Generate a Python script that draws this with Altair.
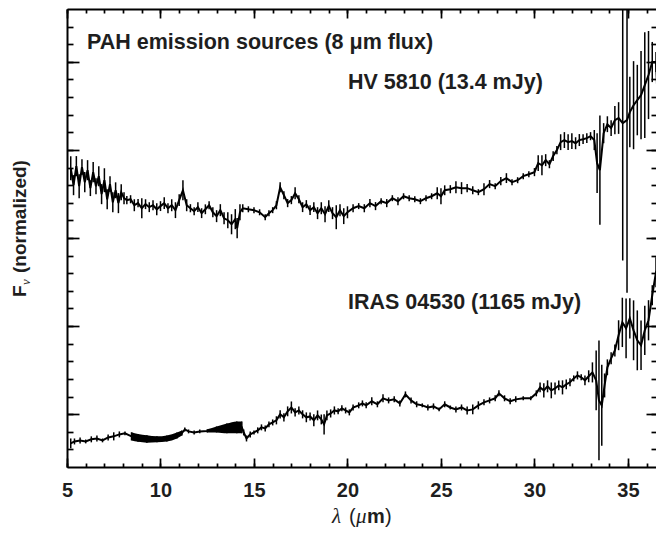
import altair as alt
import pandas as pd

# ---------------- data ----------------
# HV 5810 spectrum
hv_wl = [5.2, 5.35, 5.5, 5.65, 5.8, 5.95, 6.1, 6.25, 6.4, 6.55, 6.7, 6.85, 7.0, 7.15, 7.3, 7.45,
         7.6, 7.75, 7.9, 8.05, 8.2, 8.4, 8.6, 8.8, 9.0, 9.2, 9.4, 9.6, 9.8, 10.0, 10.2, 10.4,
         10.6, 10.8, 11.0, 11.2, 11.4, 11.6, 11.8, 12.0, 12.2, 12.4, 12.6, 12.8, 13.0, 13.2,
         13.4, 13.6, 13.8, 14.0, 14.1, 14.25, 14.4, 14.7, 15.0, 15.3, 15.6, 15.8, 16.0, 16.2,
         16.4, 16.6, 16.8, 17.0, 17.2, 17.4, 17.6, 17.8, 18.0, 18.2, 18.4, 18.6, 18.8, 19.0,
         19.2, 19.4, 19.6, 19.8, 20.0, 20.3, 20.6, 20.9, 21.2, 21.5, 21.8, 22.1, 22.4, 22.7,
         23.0, 23.3, 23.6, 23.9, 24.2, 24.5, 24.8, 25.0, 25.2, 25.5, 25.8, 26.1, 26.4, 26.7,
         27.0, 27.3, 27.6, 27.9, 28.2, 28.5, 28.8, 29.1, 29.4, 29.7, 30.0, 30.2, 30.4, 30.6,
         30.8, 31.0, 31.2, 31.4, 31.6, 31.8, 32.0, 32.2, 32.4, 32.6, 32.8, 33.0, 33.2, 33.35,
         33.5, 33.7, 33.9, 34.1, 34.3, 34.5, 34.72, 34.95, 35.1, 35.3, 35.5, 35.7, 35.9, 36.1,
         36.3, 36.5, 36.6, 36.8]
hv_flux = [1.396, 1.300, 1.408, 1.294, 1.402, 1.317, 1.385, 1.283, 1.374, 1.294, 1.351, 1.249,
           1.328, 1.220, 1.306, 1.203, 1.271, 1.198, 1.260, 1.226, 1.215, 1.220, 1.186, 1.198,
           1.169, 1.192, 1.175, 1.186, 1.163, 1.181, 1.198, 1.169, 1.186, 1.158, 1.215, 1.271,
           1.186, 1.169, 1.152, 1.175, 1.141, 1.163, 1.186, 1.146, 1.124, 1.158, 1.112, 1.101,
           1.078, 1.107, 1.056, 1.146, 1.169, 1.163, 1.158, 1.146, 1.118, 1.141, 1.158, 1.186,
           1.288, 1.243, 1.198, 1.215, 1.254, 1.220, 1.175, 1.192, 1.158, 1.175, 1.141, 1.169,
           1.135, 1.181, 1.141, 1.118, 1.158, 1.124, 1.146, 1.169, 1.181, 1.169, 1.198, 1.181,
           1.209, 1.198, 1.226, 1.209, 1.237, 1.226, 1.220, 1.209, 1.226, 1.237, 1.254, 1.237,
           1.271, 1.277, 1.288, 1.283, 1.283, 1.271, 1.260, 1.277, 1.306, 1.294, 1.323, 1.340,
           1.317, 1.328, 1.351, 1.362, 1.374, 1.425, 1.413, 1.442, 1.419, 1.465, 1.499, 1.544,
           1.556, 1.544, 1.550, 1.538, 1.556, 1.561, 1.567, 1.578, 1.556, 1.425, 1.385, 1.595,
           1.646, 1.624, 1.669, 1.681, 1.652, 1.669, 1.715, 1.754, 1.783, 1.811, 1.868, 1.925,
           1.999, 1.999, 1.754, 1.896]
hv_err = [0.068, 0.057, 0.057, 0.068, 0.045, 0.057, 0.057, 0.045, 0.057, 0.045, 0.057, 0.057,
          0.068, 0.057, 0.045, 0.057, 0.045, 0.057, 0.045, 0.034, 0.023, 0.023, 0.034, 0.023,
          0.057, 0.028, 0.028, 0.028, 0.034, 0.028, 0.034, 0.028, 0.034, 0.045, 0.034, 0.057,
          0.034, 0.023, 0.023, 0.028, 0.028, 0.028, 0.023, 0.028, 0.034, 0.034, 0.034, 0.045,
          0.057, 0.057, 0.057, 0.045, 0.023, 0.017, 0.017, 0.017, 0.017, 0.017, 0.017, 0.023,
          0.028, 0.023, 0.023, 0.023, 0.034, 0.023, 0.028, 0.023, 0.028, 0.028, 0.034, 0.034,
          0.045, 0.034, 0.034, 0.068, 0.034, 0.045, 0.034, 0.023, 0.017, 0.023, 0.023, 0.023,
          0.017, 0.023, 0.017, 0.023, 0.017, 0.017, 0.017, 0.017, 0.017, 0.017, 0.034, 0.045,
          0.028, 0.023, 0.034, 0.034, 0.023, 0.023, 0.017, 0.034, 0.023, 0.017, 0.023, 0.028,
          0.017, 0.017, 0.017, 0.017, 0.023, 0.045, 0.057, 0.034, 0.023, 0.028, 0.023, 0.045,
          0.045, 0.045, 0.045, 0.034, 0.034, 0.028, 0.028, 0.023, 0.057, 0.170, 0.310, 0.057,
          0.045, 0.045, 0.080, 0.090, 0.780, 0.980, 0.200, 0.250, 0.200, 0.250, 0.300, 0.250,
          0.114, 0.057, 0.140, 0.140]

# IRAS 04530 spectrum
ir_wl = [5.2, 5.4, 5.7, 6.0, 6.3, 6.6, 6.9, 7.2, 7.5, 7.8, 8.1, 8.45, 8.8, 9.27, 9.81, 10.34,
         10.88, 11.15, 11.3, 11.5, 11.8, 12.1, 12.5, 13.0, 13.55, 14.08, 14.35, 14.45, 14.6,
         14.8, 15.0, 15.2, 15.4, 15.6, 15.8, 16.0, 16.2, 16.4, 16.6, 16.8, 17.0, 17.2, 17.4,
         17.6, 17.8, 18.0, 18.2, 18.4, 18.6, 18.75, 18.9, 19.1, 19.3, 19.5, 19.7, 19.9, 20.1,
         20.3, 20.6, 20.8, 21.0, 21.3, 21.6, 21.9, 22.2, 22.5, 22.8, 23.1, 23.4, 23.7, 24.0,
         24.3, 24.6, 24.9, 25.2, 25.5, 25.8, 26.1, 26.4, 26.7, 27.0, 27.3, 27.6, 27.9, 28.1,
         28.4, 28.7, 29.0, 29.4, 29.8, 30.1, 30.3, 30.5, 30.7, 30.9, 31.1, 31.3, 31.5, 31.7,
         31.9, 32.1, 32.3, 32.5, 32.7, 32.9, 33.1, 33.3, 33.45, 33.6, 33.75, 33.9, 34.1, 34.3,
         34.5, 34.7, 34.9, 35.1, 35.3, 35.5, 35.7, 35.9, 36.1, 36.3, 36.5, 36.7, 36.85]
ir_flux = [-0.166, -0.155, -0.149, -0.155, -0.143, -0.138, -0.149, -0.132, -0.126, -0.115,
           -0.109, -0.126, -0.135, -0.141, -0.143, -0.138, -0.121, -0.107, -0.087, -0.098,
           -0.104, -0.098, -0.095, -0.087, -0.081, -0.075, -0.075, -0.104, -0.138, -0.115,
           -0.104, -0.092, -0.075, -0.081, -0.058, -0.047, -0.035, -0.001, -0.018, 0.016,
           0.038, 0.010, 0.021, -0.001, -0.018, -0.013, -0.035, -0.007, -0.030, -0.058,
           -0.007, 0.004, 0.021, 0.016, 0.033, 0.021, 0.010, 0.038, 0.050, 0.061, 0.050,
           0.073, 0.056, 0.090, 0.078, 0.084, 0.061, 0.112, 0.078, 0.056, 0.050, 0.038,
           0.044, 0.027, 0.056, 0.038, 0.027, 0.038, 0.021, 0.027, 0.050, 0.067, 0.078,
           0.090, 0.118, 0.090, 0.073, 0.084, 0.090, 0.090, 0.118, 0.152, 0.135, 0.158,
           0.135, 0.146, 0.163, 0.152, 0.169, 0.181, 0.203, 0.220, 0.209, 0.192, 0.215,
           0.237, 0.192, 0.078, 0.050, 0.163, 0.266, 0.317, 0.362, 0.448, 0.521, 0.487,
           0.544, 0.476, 0.419, 0.391, 0.476, 0.533, 0.675, 0.806, 0.845, 0.862]
ir_err = [0.028, 0.017, 0.017, 0.011, 0.017, 0.017, 0.011, 0.017, 0.023, 0.017, 0.011, 0.023,
          0.022, 0.021, 0.017, 0.017, 0.017, 0.014, 0.011, 0.011, 0.011, 0.011, 0.009, 0.017,
          0.028, 0.034, 0.034, 0.017, 0.017, 0.017, 0.011, 0.017, 0.017, 0.017, 0.017, 0.017,
          0.023, 0.023, 0.023, 0.028, 0.034, 0.023, 0.023, 0.023, 0.028, 0.023, 0.034, 0.028,
          0.028, 0.057, 0.028, 0.023, 0.023, 0.017, 0.017, 0.017, 0.017, 0.017, 0.017, 0.017,
          0.017, 0.023, 0.017, 0.023, 0.017, 0.017, 0.017, 0.017, 0.017, 0.017, 0.011, 0.017,
          0.017, 0.011, 0.017, 0.011, 0.017, 0.017, 0.023, 0.028, 0.023, 0.017, 0.017, 0.017,
          0.017, 0.017, 0.017, 0.017, 0.011, 0.011, 0.017, 0.028, 0.040, 0.034, 0.045, 0.034,
          0.028, 0.040, 0.028, 0.023, 0.017, 0.023, 0.017, 0.028, 0.034, 0.057, 0.170, 0.340,
          0.230, 0.068, 0.045, 0.034, 0.034, 0.085, 0.140, 0.170, 0.114, 0.170, 0.170, 0.140,
          0.140, 0.114, 0.057, 0.085, 0.068, 0.057]

# densely sampled segments of IRAS 04530 (error bars merge into a band)
band_wl = [8.45, 8.8, 9.27, 9.81, 10.34, 10.88, 11.15, 12.5, 13.0, 13.55, 14.08, 14.35]
band_flux = [-0.126, -0.135, -0.141, -0.143, -0.138, -0.121, -0.107, -0.095, -0.087, -0.081,
             -0.075, -0.075]
band_err = [0.023, 0.022, 0.021, 0.017, 0.017, 0.017, 0.014, 0.009, 0.017, 0.028, 0.034, 0.034]
band_seg = [1, 1, 1, 1, 1, 1, 1, 2, 2, 2, 2, 2]

x_major = [5, 10, 15, 20, 25, 30, 35]
x_minor = [v for v in range(5, 37)]
y_major = [0.0, 0.5, 1.0, 1.5, 2.0]
y_minor = [round(-0.2 + 0.1 * i, 1) for i in range(25)]

X_DOM = [5, 36.5]
Y_DOM = [-0.3, 2.3]

title_text = "PAH emission sources (8 \u03bcm flux)"
hv_label = "HV 5810 (13.4 mJy)"
ir_label = "IRAS 04530 (1165 mJy)"

# ---------------- build ----------------
def frame(wl, flux, err, extra=None):
    df = pd.DataFrame({"wl": wl, "flux": flux, "err": err})
    df["lo"] = df["flux"] - df["err"]
    df["hi"] = df["flux"] + df["err"]
    if extra is not None:
        df["seg"] = extra
    return df

hv = frame(hv_wl, hv_flux, hv_err)
ir = frame(ir_wl, ir_flux, ir_err)
band = frame(band_wl, band_flux, band_err, band_seg)

xs = alt.Scale(domain=X_DOM, nice=False, zero=False)
ys = alt.Scale(domain=Y_DOM, nice=False, zero=False)

FONT = "Liberation Sans"
TXT = "#1e1e1e"


def tick_axis(orient, values, size, labels=False):
    kw = dict(orient=orient, values=values, tickSize=size, offset=-size, domain=False,
              grid=False, title=None, labels=labels, tickColor="black", tickWidth=1.7)
    if labels:
        kw.update(labelFont=FONT, labelFontSize=20, labelFontWeight="bold",
                  labelColor=TXT, labelPadding=13, labelFlush=False, format="d")
    return alt.Axis(**kw)


def domain_axis(orient):
    return alt.Axis(orient=orient, ticks=False, labels=False, grid=False, title=None,
                    domain=True, domainColor="black", domainWidth=2)


hv_line = alt.Chart(hv).mark_line(color="black", strokeWidth=2, clip=True).encode(
    x=alt.X("wl:Q", scale=xs, axis=tick_axis("bottom", x_major, 9, labels=True)),
    y=alt.Y("flux:Q", scale=ys, axis=tick_axis("left", y_major, 12)),
)
ir_line = alt.Chart(ir).mark_line(color="black", strokeWidth=2, clip=True).encode(
    x=alt.X("wl:Q", scale=xs, axis=tick_axis("bottom", x_minor, 4)),
    y=alt.Y("flux:Q", scale=ys, axis=tick_axis("left", y_minor, 6)),
)
hv_bars = alt.Chart(hv).mark_rule(color="black", strokeWidth=1.5, clip=True).encode(
    x=alt.X("wl:Q", scale=xs, axis=tick_axis("top", x_major, 9)),
    y=alt.Y("lo:Q", scale=ys, axis=tick_axis("right", y_major, 10)),
    y2="hi:Q",
)
ir_bars = alt.Chart(ir).mark_rule(color="black", strokeWidth=1.5, clip=True).encode(
    x=alt.X("wl:Q", scale=xs, axis=tick_axis("top", x_minor, 4)),
    y=alt.Y("lo:Q", scale=ys, axis=tick_axis("right", y_minor, 5)),
    y2="hi:Q",
)
band_area = alt.Chart(band).mark_area(color="black", clip=True, interpolate="monotone").encode(
    x=alt.X("wl:Q", scale=xs, axis=domain_axis("bottom")),
    y=alt.Y("lo:Q", scale=ys, axis=domain_axis("left")),
    y2="hi:Q",
    detail="seg:N",
)
top_frame = alt.Chart(hv).mark_point(opacity=0, clip=True).encode(
    x=alt.X("wl:Q", scale=xs, axis=domain_axis("top")),
    y=alt.Y("flux:Q", scale=ys, axis=None),
)

dummy = pd.DataFrame({"a": [0]})


def label(txt, x, y, size=21.5, weight="bold", style="normal", font=FONT, angle=0):
    return alt.Chart(dummy).mark_text(
        text=txt, fontSize=size, fontWeight=weight, fontStyle=style, font=font,
        angle=angle, align="left", baseline="alphabetic", color=TXT,
    ).encode(x=alt.value(x), y=alt.value(y))


texts = [
    label(title_text, 20, 40),
    label(hv_label, 281, 80),
    label(ir_label, 281, 300),
    # y-axis title: F_nu (normalized)
    label("F", -41, 288, size=19, angle=270),
    label("\u03bd", -37, 276, size=13, weight="normal", style="italic",
          font="Liberation Serif", angle=270),
    label("(normalized)", -41, 264, size=19, angle=270),
    # x-axis title: lambda (mu m)
    label("\u03bb", 265, 514, size=21, weight="normal", style="italic", font="Liberation Serif"),
    label("(", 282, 514, size=20, weight="normal"),
    label("\u03bc", 289, 514, size=21, weight="normal", style="italic", font="Liberation Serif"),
    label("m", 300, 514, size=20, weight="bold"),
    label(")", 318, 514, size=20, weight="normal"),
]

chart = alt.layer(band_area, ir_line, hv_line, ir_bars, hv_bars, top_frame, *texts).resolve_axis(
    x="independent", y="independent"
).properties(
    width=589, height=458,
    autosize=alt.AutoSizeParams(type="none"),
    padding={"left": 59, "top": 1, "right": 0, "bottom": 60},
).configure_view(stroke=None)

chart.save("out.html", embed_options={"renderer": "svg", "actions": False})
